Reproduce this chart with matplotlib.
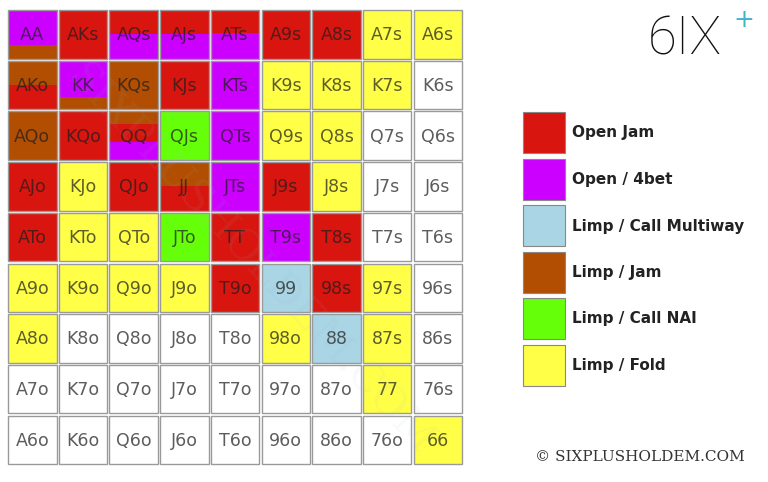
import matplotlib.pyplot as plt
from matplotlib.patches import Rectangle

# --- Chart data ---
ranks = ["A", "K", "Q", "J", "T", "9", "8", "7", "6"]

legend_labels = ["Open Jam", "Open / 4bet", "Limp / Call Multiway",
                 "Limp / Jam", "Limp / Call NAI", "Limp / Fold"]
legend_codes = ["R", "P", "B", "N", "G", "Y"]

colors = {
    "R": "#d8150f",
    "P": "#cc00ff",
    "B": "#a9d5e4",
    "N": "#b24e02",
    "G": "#66ff0a",
    "Y": "#ffff47",
    "W": "#ffffff",
}

# one code per cell, row = first rank, col = second rank
grid = [
    "RRRRRRRYY",
    "RPNRPYYYW",
    "NRRGPYYWW",
    "RYRRPRYWW",
    "RYYGRPRWW",
    "YYYYRBRYW",
    "YWWWWYBYW",
    "WWWWWWWYW",
    "WWWWWWWWY",
]

# mixed strategy cells: stacked top to bottom (code, share)
mixed = {
    "AA": [("P", 0.72), ("N", 0.28)],
    "AQs": [("R", 0.50), ("P", 0.50)],
    "AJs": [("R", 0.50), ("P", 0.50)],
    "ATs": [("R", 0.47), ("P", 0.53)],
    "AKo": [("N", 0.50), ("R", 0.50)],
    "KK": [("P", 0.75), ("N", 0.25)],
    "QQ": [("N", 0.27), ("R", 0.36), ("P", 0.37)],
    "JJ": [("N", 0.50), ("R", 0.50)],
}


def hand_name(i, j):
    if i == j:
        return ranks[i] + ranks[j]
    if j > i:
        return ranks[i] + ranks[j] + "s"
    return ranks[j] + ranks[i] + "o"


fig = plt.figure(figsize=(7.68, 4.82), dpi=100)
ax = fig.add_axes([0, 0, 1, 1])
ax.set_xlim(0, 768)
ax.set_ylim(482, 0)
ax.axis("off")

x0, y0, pitch, size = 8, 10, 50.7, 48.5

for i in range(len(ranks)):
    for j in range(len(ranks)):
        name = hand_name(i, j)
        x = x0 + j * pitch
        y = y0 + i * pitch
        parts = mixed.get(name, [(grid[i][j], 1.0)])
        top = y
        for code, share in parts:
            ax.add_patch(Rectangle((x, top), size, size * share,
                                   facecolor=colors[code], edgecolor="none"))
            top += size * share
        ax.add_patch(Rectangle((x, y), size, size, facecolor="none",
                               edgecolor="#9a9a9a", linewidth=1.0))
        ax.text(x + size / 2, y + size / 2 + 1, name, ha="center", va="center",
                fontsize=12.5, color="#1e1e1e", alpha=0.72)

# faint diagonal watermark
ax.text(250, 260, "SIXPLUSHOLDEM.COM", rotation=-47, ha="center", va="center",
        fontsize=30, color="#9fb8c8", alpha=0.08, family="DejaVu Serif")

# legend
for k, (label, code) in enumerate(zip(legend_labels, legend_codes)):
    ly = 112 + k * 46.5
    ax.add_patch(Rectangle((523, ly), 42, 41, facecolor=colors[code],
                           edgecolor="#888888", linewidth=0.8))
    ax.text(572, ly + 21, label, ha="left", va="center", fontsize=11,
            fontweight="bold", color="#222222")

# logo
ax.text(648, 40, "6IX", ha="left", va="center", fontsize=38,
        family="Roboto", fontweight="light", color="#111111")
ax.text(744, 20, "+", ha="center", va="center", fontsize=18,
        color="#3ab6c6")

ax.text(535, 457, "\u00a9 SIXPLUSHOLDEM.COM", ha="left", va="center",
        fontsize=11, family="DejaVu Serif", color="#333333")

fig.savefig("out.png", dpi=100)
